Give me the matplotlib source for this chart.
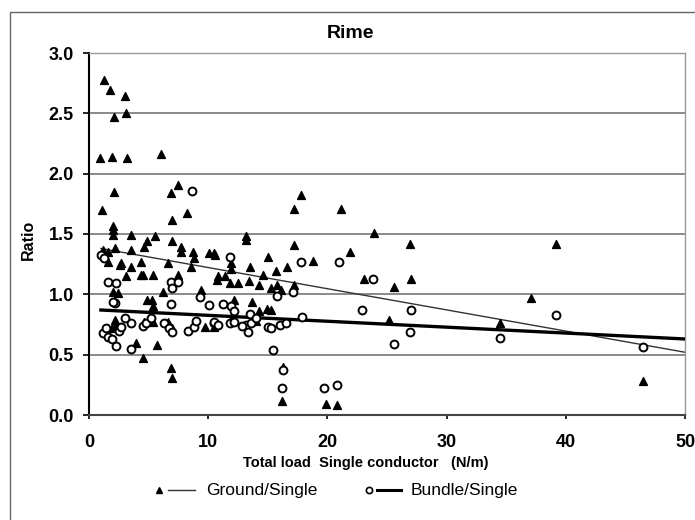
import numpy as np
import matplotlib
matplotlib.use("Agg")
import matplotlib.pyplot as plt
from matplotlib.lines import Line2D
from matplotlib.patches import Rectangle

plt.rcParams['font.family'] = ['Liberation Sans', 'DejaVu Sans']

# Ground/Single ratio vs total load (N/m)
ground_x = [1.25, 1.8, 3.0, 3.1, 2.1, 0.9, 1.9, 3.2, 6.05, 2.1, 1.1, 6.9, 7.5, 8.2, 7.0,
            17.2, 17.8, 21.1, 2.0, 2.0, 2.0, 3.5, 5.5, 4.9, 4.6, 7.0, 7.7, 7.7, 8.7, 8.8,
            10.1, 10.5, 1.2, 1.6, 2.15, 3.5, 1.6, 2.6, 3.5, 4.4, 4.5, 5.35, 6.6, 7.45, 8.55,
            13.2, 13.2, 17.2, 10.6, 15.0, 18.8, 16.6, 13.5, 11.9, 11.9, 15.7, 14.6, 10.8, 11.4,
            10.7, 11.8, 12.5, 13.4, 14.3, 15.3, 15.8, 16.1, 17.2, 9.4, 12.2, 13.7, 14.3, 14.9,
            15.3, 21.9, 23.9, 26.9, 39.2, 23.1, 27.0, 25.6, 37.1, 25.2, 34.5, 46.5,
            4.5, 3.95, 5.7, 6.9, 6.95, 16.3, 16.2, 19.9, 20.8,
            4.9, 5.35, 6.2, 2.0, 2.4, 3.1, 4.4, 2.7, 2.15, 2.3, 1.9, 4.65, 5.35, 6.6, 7.0,
            9.7, 10.5, 5.25, 12.0, 14.0]
ground_y = [2.78, 2.69, 2.64, 2.50, 2.47, 2.13, 2.14, 2.13, 2.16, 1.85, 1.70, 1.84, 1.91, 1.67, 1.62,
            1.71, 1.82, 1.71, 1.57, 1.53, 1.49, 1.49, 1.48, 1.44, 1.39, 1.44, 1.39, 1.35, 1.35, 1.30,
            1.34, 1.34, 1.37, 1.35, 1.38, 1.37, 1.27, 1.24, 1.23, 1.27, 1.16, 1.16, 1.26, 1.16, 1.23,
            1.48, 1.45, 1.41, 1.33, 1.31, 1.28, 1.23, 1.23, 1.26, 1.21, 1.19, 1.16, 1.15, 1.15,
            1.12, 1.09, 1.09, 1.11, 1.08, 1.05, 1.08, 1.04, 1.08, 1.04, 0.95, 0.94, 0.86, 0.88,
            0.87, 1.35, 1.51, 1.42, 1.42, 1.13, 1.13, 1.06, 0.97, 0.79, 0.76, 0.28,
            0.47, 0.60, 0.58, 0.39, 0.31, 0.40, 0.12, 0.09, 0.08,
            0.95, 0.90, 1.02, 1.02, 1.01, 1.15, 1.16, 1.26, 0.79, 0.75, 0.72, 0.77, 0.77, 0.77, 0.72,
            0.73, 0.73, 0.95, 0.80, 0.78]

# Bundle/Single ratio vs total load (N/m)
bundle_x = [8.6, 1.0, 1.3, 1.6, 2.3, 6.9, 7.45, 2.15, 3.55, 4.5, 6.9, 10.1, 1.2, 1.6, 1.9,
            2.5, 2.65, 2.3, 3.5, 4.8, 6.3, 6.75, 7.0, 8.3, 8.85, 10.5, 9.3, 11.8, 17.8, 21.0,
            17.1, 11.2, 11.9, 15.8, 13.5, 12.2, 10.5, 10.8, 11.8, 12.2, 13.2, 13.3, 13.6,
            15.0, 15.3, 16.0, 16.5, 17.9, 15.4, 16.3, 16.2, 19.75, 20.8, 23.8, 22.9, 27.0,
            26.9, 25.6, 34.5, 39.2, 46.5, 2.0, 7.0, 5.2, 9.0, 14.0, 1.4, 3.0, 12.8]
bundle_y = [1.86, 1.33, 1.30, 1.10, 1.09, 1.10, 1.10, 0.93, 0.76, 0.74, 0.92, 0.91, 0.68, 0.65, 0.63,
            0.70, 0.73, 0.57, 0.55, 0.76, 0.76, 0.72, 0.69, 0.70, 0.73, 0.76, 0.98, 1.31, 1.27, 1.27,
            1.02, 0.92, 0.90, 0.99, 0.84, 0.86, 0.77, 0.75, 0.76, 0.77, 0.75, 0.69, 0.76,
            0.73, 0.72, 0.75, 0.76, 0.81, 0.54, 0.37, 0.22, 0.22, 0.25, 1.13, 0.87, 0.87,
            0.69, 0.59, 0.64, 0.83, 0.56, 0.94, 1.05, 0.80, 0.78, 0.80, 0.72, 0.80, 0.74]

# linear trend lines (endpoints)
trend_x = [1.0, 50.0]
ground_trend = [1.38, 0.52]
bundle_trend = [0.87, 0.63]

W, H = 695, 520
fig = plt.figure(figsize=(W / 100, H / 100), dpi=100)

def fx(px):
    return px / W

def fy(py):
    return 1 - py / H

# outer chart frame
fig.patches.append(Rectangle((fx(10), -0.02), 1.0, fy(12) + 0.02,
                             transform=fig.transFigure, fill=False,
                             edgecolor='#666666', linewidth=1.0, zorder=0))
ax = fig.add_axes([fx(89), fy(415), (685 - 89) / W, (415 - 53) / H])

ax.set_xlim(0, 50)
ax.set_ylim(0, 3.0)
ax.set_yticks(np.arange(0, 3.01, 0.5))
ax.set_xticks(np.arange(0, 51, 10))
ax.yaxis.grid(True, color='#777777', linewidth=1.2)
ax.set_axisbelow(True)

for s in ['top', 'right']:
    ax.spines[s].set_color('#999999')
    ax.spines[s].set_linewidth(1.0)
ax.spines['left'].set_linewidth(1.5)
ax.spines['bottom'].set_linewidth(1.5)
ax.spines['bottom'].set_color('#444444')

ax.tick_params(axis='y', labelsize=13, width=1.2, length=4, pad=7)
ax.tick_params(axis='x', labelsize=13, width=1.2, length=3, pad=11)
for lab in ax.get_xticklabels() + ax.get_yticklabels():
    lab.set_fontweight('bold')

ax.plot(trend_x, ground_trend, color='#333333', linewidth=1.0, zorder=3)
ax.plot(trend_x, bundle_trend, color='black', linewidth=2.4, zorder=3)

ax.scatter(ground_x, ground_y, marker='^', s=32, color='black', zorder=4)
ax.scatter(bundle_x, bundle_y, marker='o', s=32, facecolor='white',
           edgecolor='black', linewidths=1.4, zorder=4)

fig.text(fx(350), fy(33), 'Rime', ha='center', va='center',
         fontsize=14, fontweight='bold')
ax.set_xlabel('Total load  Single conductor   (N/m)', fontsize=10.5,
              fontweight='bold')
ax.xaxis.set_label_coords((366 - 89) / 596, (415 - 456) / 362)
ax.set_ylabel('Ratio', fontsize=11.5, fontweight='bold')
ax.yaxis.set_label_coords((36 - 89) / 596, (415 - 240) / 362)

# legend drawn below the axis title
ly = fy(490)
fig.add_artist(Line2D([fx(159)], [ly], marker='^', markersize=4.5, color='black',
                      linestyle='none', transform=fig.transFigure))
fig.add_artist(Line2D([fx(168), fx(195)], [ly, ly], color='#333333', linewidth=1.0,
                      transform=fig.transFigure))
fig.text(fx(206), ly, 'Ground/Single', ha='left', va='center', fontsize=12.5)
fig.add_artist(Line2D([fx(369)], [ly], marker='o', markersize=4.5, color='black',
                      markerfacecolor='white', markeredgewidth=1.2,
                      linestyle='none', transform=fig.transFigure))
fig.add_artist(Line2D([fx(377), fx(401)], [ly, ly], color='black', linewidth=2.2,
                      transform=fig.transFigure))
fig.text(fx(411), ly, 'Bundle/Single', ha='left', va='center', fontsize=12.5)

fig.savefig('out.png', dpi=100)
